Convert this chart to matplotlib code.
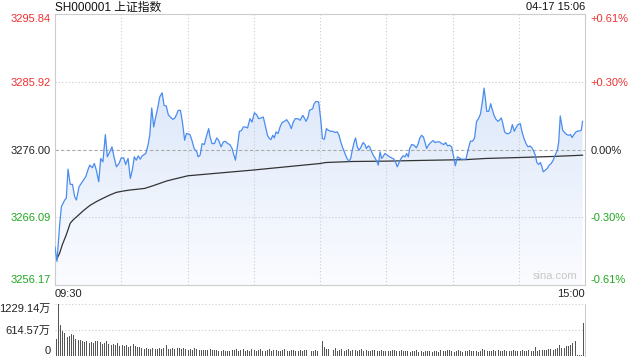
import numpy as np
import matplotlib
matplotlib.use("Agg")
import matplotlib.pyplot as plt
from matplotlib.colors import LinearSegmentedColormap

plt.rcParams['font.family'] = ['Liberation Sans', 'Noto Sans CJK SC', 'DejaVu Sans']

# ---- data ----
title = "SH000001 上证指数"
stamp = "04-17 15:06"
prev_close = 3276.00
price_levels = [3256.17, 3266.09, 3276.00, 3285.92, 3295.84]
vol_levels = [0, 614.57, 1229.14]

# minute index (0 = 09:30, 120 = 11:30/13:00, 240 = 15:00)
price_t = [0, 0.9, 2.1, 2.9, 4.4, 5.1, 5.9, 6.9, 7.9, 8.9, 9.7, 10.9, 12.4, 13.9, 14.9, 15.7,
           16.9, 17.8, 18.7, 19.8, 20.7, 21.7, 22.8, 23.7, 24.8, 25.8, 26.7, 27.8, 29.0, 30.0,
           31.1, 32.0, 33.1, 34.1, 35.0, 35.9, 36.8, 37.7, 38.6, 39.5, 41.1, 42.1, 42.9, 43.8,
           44.7, 45.6, 46.6, 47.4, 48.5, 49.4, 50.4, 51.3, 52.2, 53.4, 54.3, 55.2, 55.8, 56.8,
           57.7, 58.7, 59.5, 60.1, 61.1, 62.0, 63.0, 64.2, 64.8, 65.7, 66.6, 67.6, 68.7, 69.6,
           70.2, 71.1, 72.2, 73.2, 74.1, 75.2, 76.2, 77.1, 78.2, 79.2, 80.2, 80.8, 81.7, 82.7,
           83.5, 84.4, 85.3, 86.2, 87.2, 88.3, 89.2, 90.3, 91.3, 92.2, 93.3, 94.3, 95.2, 96.2,
           97.1, 97.8, 98.6, 99.3, 100.1, 101.0, 101.9, 102.8, 103.9, 104.9, 106.1, 107.0,
           107.9, 108.8, 109.9, 111.0, 112.2, 112.9, 113.7, 114.6, 115.2, 116.1, 116.7, 117.3,
           118.2, 119.4, 120.3, 121.1, 122.0, 122.9, 123.8, 124.8, 125.9, 126.8, 127.8, 128.6,
           129.4, 130.4, 131.6, 132.4, 133.1, 133.9, 134.6, 135.5, 136.1, 136.9, 137.7, 138.6,
           139.5, 140.4, 141.0, 141.9, 142.5, 143.4, 144.1, 144.9, 145.7, 146.4, 147.2, 147.9,
           148.5, 149.4, 150.5, 151.5, 152.4, 153.5, 154.3, 155.0, 155.8, 156.7, 157.6, 158.5,
           159.2, 160.0, 160.6, 161.5, 162.6, 163.6, 164.5, 165.1, 166.0, 166.8, 167.5, 168.3,
           169.1, 170.1, 171.2, 172.1, 173.1, 174.2, 175.1, 176.1, 176.9, 177.8, 178.7, 179.6,
           180.4, 181.3, 182.2, 183.1, 184.0, 185.0, 186.1, 187.0, 188.1, 189.1, 190.0, 190.9,
           191.8, 192.7, 193.6, 194.3, 194.9, 195.5, 196.4, 197.3, 197.9, 198.8, 199.7, 200.6,
           201.2, 202.1, 202.7, 203.6, 204.5, 205.4, 206.3, 207.1, 208.0, 208.7, 209.6, 210.7,
           211.5, 212.4, 213.3, 214.2, 215.1, 216.0, 216.9, 217.5, 218.2, 219.0, 219.8, 220.5,
           221.1, 222.0, 222.9, 223.8, 224.7, 225.6, 226.5, 227.5, 228.1, 228.8, 229.9, 230.8,
           231.7, 232.6, 233.5, 234.1, 235.0, 235.9, 236.8, 237.7, 238.3, 238.9]
price = [3261.71, 3259.62, 3264.97, 3267.64, 3268.61, 3268.86, 3273.13, 3270.90, 3270.90, 3269.10,
         3268.61, 3270.56, 3271.29, 3272.01, 3272.99, 3273.72, 3273.33, 3273.96, 3272.99, 3271.29,
         3274.69, 3274.20, 3278.19, 3274.93, 3275.66, 3276.39, 3274.93, 3273.47, 3273.96, 3274.78,
         3274.78, 3273.81, 3274.69, 3271.77, 3272.99, 3274.93, 3274.44, 3275.08, 3274.59, 3275.08,
         3275.42, 3276.63, 3278.09, 3282.08, 3279.30, 3280.76, 3282.22, 3283.68, 3284.31, 3282.46,
         3282.37, 3281.10, 3280.76, 3280.42, 3280.62, 3281.25, 3281.73, 3281.73, 3280.03, 3277.36,
         3278.33, 3278.33, 3278.19, 3277.36, 3276.15, 3275.66, 3274.93, 3275.17, 3276.87, 3276.73,
         3278.09, 3279.06, 3277.85, 3276.87, 3276.87, 3277.70, 3277.36, 3276.39, 3277.12, 3277.21,
         3276.87, 3276.73, 3276.15, 3275.42, 3274.44, 3276.63, 3278.67, 3278.77, 3279.30, 3279.30,
         3279.16, 3280.52, 3280.03, 3281.39, 3281.10, 3280.52, 3280.62, 3280.76, 3279.55, 3278.09,
         3277.60, 3277.46, 3278.09, 3277.70, 3278.58, 3278.33, 3279.30, 3279.94, 3280.13, 3280.37,
         3279.79, 3279.06, 3280.03, 3280.52, 3280.52, 3280.28, 3281.01, 3280.62, 3280.13, 3280.76,
         3281.73, 3281.88, 3281.98, 3282.71, 3283.05, 3282.95, 3280.52, 3277.60, 3277.51, 3279.06,
         3278.82, 3278.67, 3278.67, 3278.48, 3278.58, 3278.09, 3277.12, 3276.15, 3275.17, 3274.59,
         3274.30, 3274.69, 3275.90, 3277.12, 3277.70, 3276.39, 3275.90, 3276.39, 3277.02, 3276.73,
         3276.15, 3276.53, 3276.39, 3275.66, 3275.17, 3274.78, 3274.30, 3273.72, 3275.66, 3274.69,
         3274.93, 3275.42, 3275.17, 3274.93, 3274.78, 3274.59, 3274.10, 3273.47, 3274.10, 3274.69,
         3275.08, 3274.93, 3275.42, 3274.93, 3276.15, 3276.73, 3276.63, 3276.24, 3276.87, 3277.60,
         3278.09, 3277.85, 3277.12, 3276.15, 3276.63, 3277.02, 3277.31, 3277.02, 3277.12, 3277.12,
         3276.87, 3276.73, 3277.02, 3276.53, 3276.63, 3276.39, 3275.17, 3273.62, 3274.93, 3274.78,
         3274.59, 3274.59, 3274.59, 3275.90, 3277.22, 3277.22, 3277.70, 3280.13, 3280.52, 3281.25,
         3283.19, 3284.99, 3283.44, 3281.59, 3281.59, 3282.71, 3281.98, 3281.01, 3280.42, 3280.13,
         3280.28, 3280.62, 3279.94, 3278.58, 3278.33, 3278.33, 3278.58, 3279.65, 3278.67, 3279.16,
         3279.65, 3279.79, 3278.58, 3277.60, 3276.87, 3276.39, 3276.53, 3276.24, 3275.66, 3275.17,
         3274.10, 3273.81, 3274.10, 3273.47, 3272.74, 3272.99, 3273.23, 3273.72, 3273.96, 3274.44,
         3275.17, 3275.90, 3277.12, 3280.91, 3278.82, 3278.48, 3278.19, 3278.09, 3278.19, 3277.75,
         3278.19, 3278.58, 3278.72, 3278.72, 3278.82, 3280.13]

avg_t = [0.9, 2.1, 3.3, 5.1, 6.9, 8.2, 10.4, 12.7, 15.7, 18.7, 21.7, 24.8, 27.8, 30.8, 33.8,
         36.8, 40.6, 44.4, 47.4, 50.4, 53.4, 56.5, 60.2, 89.5, 120.2, 122.6, 134.6, 149.7,
         164.8, 180.4, 185.8, 194.9, 209.9, 225.0, 238.9]
avg_price = [3260.01, 3260.84, 3262.05, 3263.51, 3265.21, 3265.70, 3266.33, 3267.01, 3267.79,
             3268.37, 3268.86, 3269.34, 3269.73, 3269.92, 3270.07, 3270.17, 3270.31, 3270.70,
             3271.04, 3271.38, 3271.63, 3271.87, 3272.16, 3272.99, 3273.96, 3274.10, 3274.25,
             3274.30, 3274.40, 3274.49, 3274.52, 3274.69, 3274.83, 3274.98, 3275.17]

# volume per minute, in 万
volume = [403, 1229, 743, 600, 537, 442, 482, 521, 506, 403,
          379, 387, 363, 324, 348, 300, 324, 300, 363, 363,
          324, 284, 300, 363, 284, 269, 284, 269, 300, 245,
          269, 245, 269, 221, 245, 284, 245, 221, 205, 190,
          166, 182, 166, 166, 182, 166, 166, 190, 166, 182,
          261, 166, 166, 182, 166, 190, 182, 166, 182, 166,
          150, 166, 150, 182, 166, 150, 150, 150, 142, 142,
          166, 142, 142, 150, 126, 126, 150, 126, 126, 110,
          150, 135, 160, 128, 140, 175, 130, 145, 120, 160,
          138, 125, 150, 170, 130, 118, 145, 160, 122, 135,
          148, 130, 115, 140, 165, 128, 120, 150, 135, 110,
          125, 140, 118, 135, 150, 120, 112, 130, 145, 125,
          140, 350, 210, 160, 175, 140, 150, 180, 130, 145,
          160, 125, 140, 155, 120, 150, 135, 115, 140, 165,
          130, 145, 120, 110, 135, 150, 118, 125, 140, 128,
          115, 130, 120, 145, 135, 110, 125, 140, 118, 130,
          120, 100, 125, 110, 135, 105, 115, 100, 120, 128,
          110, 105, 130, 118, 100, 140, 125, 115, 150, 138,
          120, 105, 130, 145, 112, 100, 125, 118, 150, 108,
          115, 130, 105, 120, 165, 140, 110, 125, 118, 135,
          120, 140, 108, 115, 150, 130, 112, 125, 140, 118,
          130, 110, 145, 125, 115, 135, 120, 110, 221, 125,
          150, 140, 150, 150, 160, 165, 150, 160, 180, 269,
          190, 200, 230, 245, 260, 300, 363, 30, 20, 20,
          785]

RED = '#f03030'
GREEN = '#20a820'
GRID = '#cccccc'

fig = plt.figure(figsize=(6.4, 3.6), dpi=100)
ax = fig.add_axes([55 / 640, 1 - 285 / 360, 530 / 640, 271 / 360])
axv = fig.add_axes([55 / 640, 1 - 356 / 360, 530 / 640, 52 / 360])

lo, hi = price_levels[0], price_levels[-1]
ax.set_xlim(0, 240)
ax.set_ylim(lo, hi)

# gradient fill under the price line
poly = ax.fill_between(price_t, price, lo, facecolor='none', edgecolor='none')
cmap = LinearSegmentedColormap.from_list('fade', ['#fbfcff', '#dde8fa'])
grad = np.linspace(0, 1, 256).reshape(-1, 1)
img = ax.imshow(grad, cmap=cmap, aspect='auto', origin='lower',
                extent=[0, 240, lo, 3285.0], zorder=1)
clip = poly.get_paths()[0]
img.set_clip_path(clip, transform=ax.transData)

ax.plot(price_t, price, color='#4a8cf0', lw=0.9, zorder=4)
ax.plot(avg_t, avg_price, color='#333333', lw=0.9, zorder=3)

# grid
for v in price_levels[1:-1]:
    if v == prev_close:
        ax.axhline(v, color='#aaaaaa', lw=0.8, dashes=(3, 2), zorder=2)
    else:
        ax.axhline(v, color=GRID, lw=0.8, dashes=(1, 2), zorder=2)
for m in range(30, 240, 30):
    ax.axvline(m, color=GRID, lw=0.8, dashes=(1, 2), zorder=2)

for s in ax.spines.values():
    s.set_color('#cccccc')
    s.set_linewidth(0.8)

# left labels
ax.set_yticks(price_levels)
ax.set_yticklabels([f"{v:.2f}" for v in price_levels])
ax.tick_params(axis='y', length=0, pad=3, labelsize=8)
for lab, v in zip(ax.get_yticklabels(), price_levels):
    lab.set_color(RED if v > prev_close else (GREEN if v < prev_close else '#222222'))
ax.get_yticklabels()[0].set_va('bottom')
ax.get_yticklabels()[-1].set_va('top')

# right percent labels
axr = ax.twinx()
axr.set_ylim(lo, hi)
axr.set_yticks(price_levels)
pct = [(v - prev_close) / prev_close * 100 for v in price_levels]
axr.set_yticklabels([("+" if p > 0.001 else "") + f"{p:.2f}%" for p in pct])
axr.tick_params(axis='y', length=0, pad=4, labelsize=8)
for lab, p in zip(axr.get_yticklabels(), pct):
    lab.set_color(RED if p > 0.001 else (GREEN if p < -0.001 else '#222222'))
axr.get_yticklabels()[0].set_va('bottom')
axr.get_yticklabels()[-1].set_va('top')
for s in axr.spines.values():
    s.set_visible(False)

# time labels
ax.set_xticks([0, 240])
ax.set_xticklabels(["09:30", "15:00"])
ax.tick_params(axis='x', length=0, pad=3, labelsize=8, labelcolor='#222222')
ax.get_xticklabels()[0].set_ha('left')
ax.get_xticklabels()[1].set_ha('right')

ax.text(0.985, 0.015, "sina.com", transform=ax.transAxes, ha='right', va='bottom',
        fontsize=8, color='#c8c8c8', zorder=5)

# volume panel
axv.bar(range(len(volume)), volume, width=0.45, color='#555555')
axv.set_xlim(-0.5, 240.5)
axv.set_ylim(0, vol_levels[-1])
for v in vol_levels[1:]:
    axv.axhline(v, color=GRID, lw=0.8, dashes=(1, 2), zorder=0)
axv.set_xticks([])
axv.set_yticks(vol_levels)
axv.set_yticklabels(["0", "614.57万", "1229.14万"])
axv.tick_params(axis='y', length=0, pad=3, labelsize=8, labelcolor='#222222')
axv.get_yticklabels()[0].set_va('bottom')
axv.get_yticklabels()[-1].set_va('top')
for k in ['top', 'left', 'bottom']:
    axv.spines[k].set_visible(False)
axv.spines['right'].set_color('#cccccc')
axv.spines['right'].set_linewidth(0.8)

fig.text(55 / 640, 1 - 7.5 / 360, title, ha='left', va='center', fontsize=8.5, color='#111111')
fig.text(585 / 640, 1 - 7.5 / 360, stamp, ha='right', va='center', fontsize=8, color='#111111')

fig.savefig("out.png", dpi=100)
